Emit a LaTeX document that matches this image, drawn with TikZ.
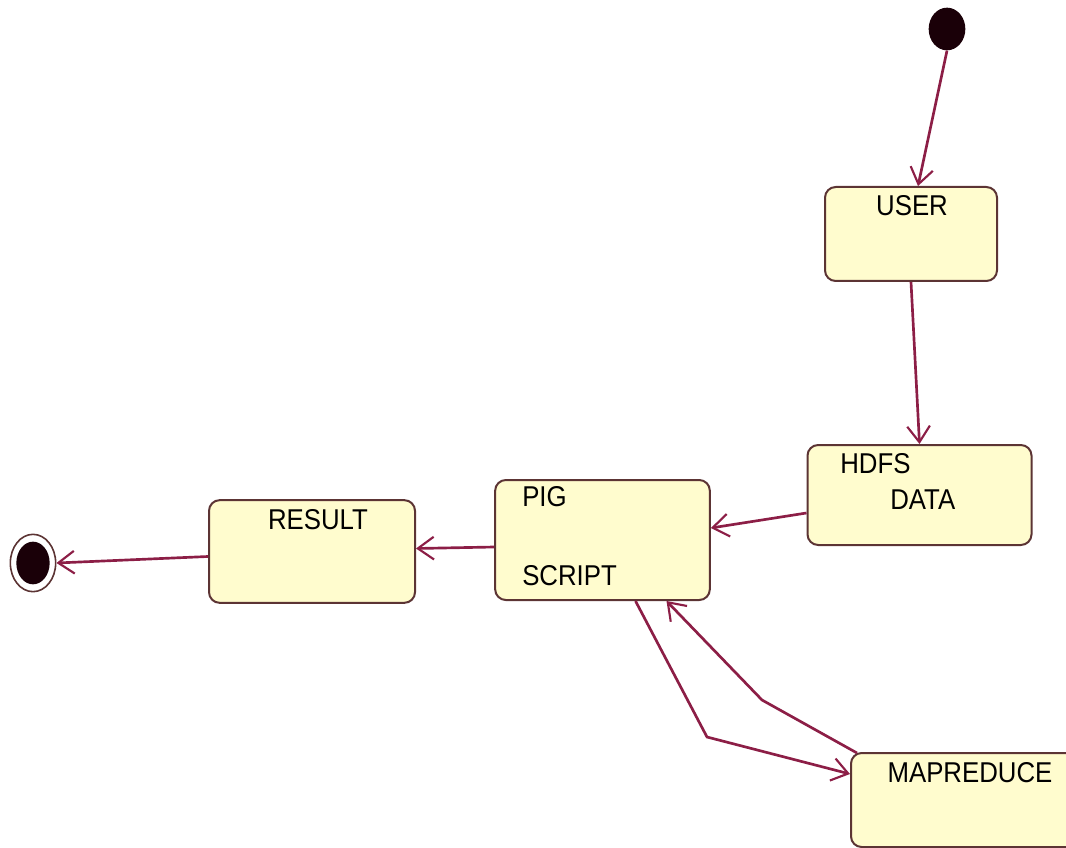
\documentclass[tikz,border=0pt]{standalone}
\usepackage{fontspec}
\setmainfont{Liberation Sans}[FakeStretch=0.9]
\usepackage{tikz}
\usetikzlibrary{calc,arrows.meta,shapes.geometric,positioning}
\definecolor{boxfill}{RGB}{255,252,206}
\definecolor{boxline}{RGB}{92,52,52}
\definecolor{wine}{RGB}{140,30,70}
\definecolor{dotfill}{RGB}{26,0,8}
\tikzset{
	statebox/.style={
		draw=boxline, fill=boxfill, rounded corners=8pt,
		line width=1.5pt, inner sep=0pt
	},
	label_txt/.style={
		font=\fontsize{21.5}{24}\selectfont, text=black, inner sep=0pt
	},
	flow/.style={
		-{Straight Barb[length=12pt,width=17pt,line width=1.6pt]},
		draw=wine, line width=2pt
	}
}

\begin{document}
\begin{tikzpicture}[x=0.75pt,y=-0.75pt]
	\useasboundingbox (0,0) rectangle (1066,848);
	\clip (0,0) rectangle (1066,848);
	% start and end
	\node[ellipse, fill=dotfill, minimum width=27.5pt, minimum height=32pt, inner sep=0pt] (start) at (947,29) {};
	\node[ellipse, draw=boxline, line width=1.2pt, fill=white, minimum width=34pt, minimum height=43pt, inner sep=0pt] (finish) at (33,563) {};
	\node[ellipse, fill=dotfill, minimum width=25pt, minimum height=32pt, inner sep=0pt] (finish_dot) at (33,563) {};
	% states
	\node[statebox, minimum width=129pt, minimum height=70.5pt] (user) at (911,234) {};
	\node[statebox, minimum width=168pt, minimum height=75pt] (hdfs) at (919.5,495) {};
	\node[statebox, minimum width=161pt, minimum height=90pt] (pig) at (602.5,540) {};
	\node[statebox, minimum width=154.5pt, minimum height=77pt] (result) at (312,551.5) {};
	\node[statebox, minimum width=180pt, minimum height=70.5pt] (mapred) at (971,800) {};
	% texts
	\node[label_txt] (user_txt) at (912,205.5) {USER};
	\node[label_txt, anchor=west] (hdfs_txt) at (840,464) {HDFS};
	\node[label_txt, anchor=west] (data_txt) at (890,499.5) {DATA};
	\node[label_txt, anchor=west] (pig_txt) at (522,497) {PIG};
	\node[label_txt, anchor=west] (script_txt) at (522,576) {SCRIPT};
	\node[label_txt] (result_txt) at (318,520) {RESULT};
	\node[label_txt] (mapred_txt) at (970,773) {MAPREDUCE};
	% bends
	\coordinate (down_bend) at (707,737);
	\coordinate (up_bend) at (762,700);
	% transitions
	\draw[flow] (start.south) -- ($(user.north)+(7,0)$);
	\draw[flow] (user.south) -- (hdfs.north);
	\draw[flow] ($(hdfs.west)+(0,18)$) -- ($(pig.east)+(0,-12)$);
	\draw[flow] ($(pig.west)+(0,7)$) -- ($(result.east)+(0,-3)$);
	\draw[flow] ($(result.west)+(0,5)$) -- (finish.east);
	\draw[flow] ($(pig.south)+(33,0)$) -- (down_bend) -- ($(mapred.west)+(0,-26)$);
	\draw[flow] ($(mapred.north west)+(7,1)$) -- (up_bend) -- ($(pig.south)+(64,0)$);
\end{tikzpicture}
\end{document}
